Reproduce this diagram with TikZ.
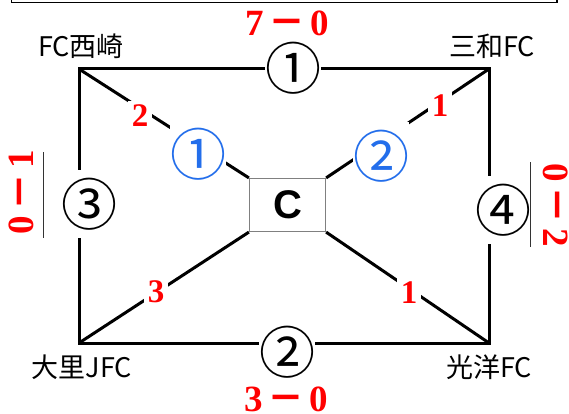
\documentclass[tikz,border=0pt]{standalone}
\usepackage{fontspec}
\setmainfont{Noto Sans CJK JP}
\newfontfamily\numfont{Liberation Serif}
\newfontfamily\boxfont{Liberation Sans}
\newfontfamily\dashfont{Noto Sans CJK JP}
\definecolor{scorered}{RGB}{255,0,0}
\definecolor{pairblue}{RGB}{35,110,235}
\newcommand{\scoredash}{\hspace{5pt}{\dashfont\bfseries －}\hspace{5pt}}
\tikzset{
  teamlabel/.style={font=\fontsize{27}{30}\selectfont, inner sep=0pt},
  gamelabel/.style={font=\fontsize{56}{60}\selectfont, fill=white, inner xsep=0pt, inner ysep=8pt},
  pointlabel/.style={font=\numfont\bfseries\fontsize{33}{36}\selectfont, text=scorered, fill=white, inner sep=4pt},
  scorelabel/.style={font=\numfont\bfseries\fontsize{37}{40}\selectfont, text=scorered, inner sep=0pt},
  edge/.style={line width=3pt},
  tally/.style={line width=0.8pt, black!80}
}
\begin{document}
\begin{tikzpicture}[x=1pt,y=-1pt]
   \useasboundingbox (0,0) rectangle (569,414);
   % edge of the frame above
   \draw[line width=1.3pt] (11.5,0) -- (11.5,2.5) -- (557,2.5) -- (557,0);
   \coordinate (nw) at (79,69);
   \coordinate (ne) at (489,69);
   \coordinate (sw) at (79,343);
   \coordinate (se) at (489,343);
   \node[draw=gray, line width=1.2pt, fill=white, minimum width=76pt, minimum height=53pt,
         font=\boxfont\bfseries\fontsize{40}{44}\selectfont] (C) at (287.5,205) {C};
   \draw[edge] (nw) -- (ne) -- (se) -- (sw) -- cycle;
   \draw[edge] (nw) -- (C.north west);
   \draw[edge] (ne) -- (C.north east);
   \draw[edge] (sw) -- (C.south west);
   \draw[edge] (se) -- (C.south east);
   % game numbers
   \node[gamelabel] (g1) at (293,68) {①};
   \node[gamelabel] (g2) at (287,352) {②};
   \node[gamelabel] (g3) at (89,204) {③};
   \node[gamelabel] (g4) at (503,210) {④};
   \node[gamelabel, text=pairblue] (b1) at (198,154) {①};
   \node[gamelabel, text=pairblue] (b2) at (381,156) {②};
   % points
   \node[pointlabel] (p1) at (140,116) {2};
   \node[pointlabel] (p2) at (440,106) {1};
   \node[pointlabel] (p3) at (156,292) {3};
   \node[pointlabel] (p4) at (409,293) {1};
   % scores
   \node[scorelabel] (s1) at (287,23) {7\scoredash 0};
   \node[scorelabel] (s2) at (286,399) {3\scoredash 0};
   \node[scorelabel, rotate=90] (s3) at (21,192) {0\scoredash 1};
   \node[scorelabel, rotate=-90] (s4) at (556,205) {0\scoredash 2};
   \draw[tally] (43,152) -- (43,238);
   \draw[tally] (530,162) -- (530,247);
   % teams
   \node[teamlabel] (t1) at (81,46) {FC西崎};
   \node[teamlabel] (t2) at (492,46) {三和FC};
   \node[teamlabel] (t3) at (82,367) {大里JFC};
   \node[teamlabel] (t4) at (489,367) {光洋FC};
\end{tikzpicture}
\end{document}
